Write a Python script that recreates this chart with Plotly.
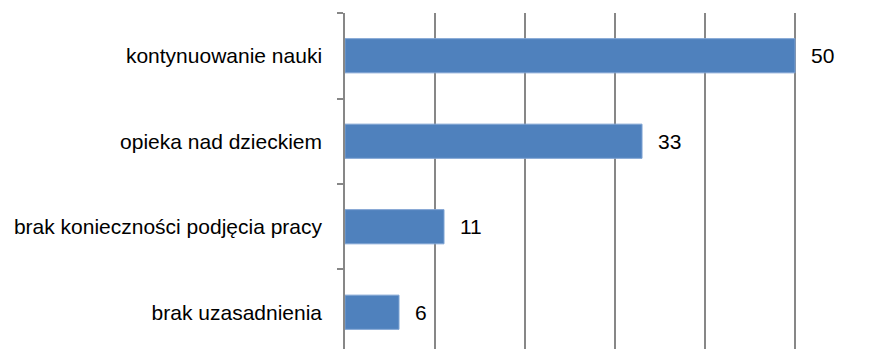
import plotly.graph_objects as go

categories = ["kontynuowanie nauki", "opieka nad dzieckiem",
              "brak konieczności podjęcia pracy", "brak uzasadnienia"]
values = [50, 33, 11, 6]
x_ticks = [0, 10, 20, 30, 40, 50]

FONT = "Liberation Sans, Arial, sans-serif"
GRID = "#878787"

fig = go.Figure()
fig.add_trace(go.Bar(
    y=categories, x=values, orientation="h",
    width=0.4,
    marker=dict(color="#4F81BD", line=dict(color="#7FA3D3", width=1)),
    hoverinfo="skip",
))

for c, v in zip(categories, values):
    fig.add_annotation(x=v, y=c, text=str(v), showarrow=False,
                       xanchor="left", yanchor="middle", xshift=14,
                       font=dict(family=FONT, size=21, color="#000000"))

fig.update_layout(
    width=873, height=349,
    margin=dict(l=345, r=73, t=13, b=0),
    paper_bgcolor="white", plot_bgcolor="white",
    showlegend=False,
    font=dict(family=FONT, size=21, color="#000000"),
    xaxis=dict(range=[0, 50.55], tickvals=x_ticks, showticklabels=False,
               showgrid=True, gridcolor=GRID, gridwidth=1.5,
               zeroline=False, showline=False, ticks=""),
    yaxis=dict(type="category", categoryorder="array", categoryarray=categories,
               range=[3.43, -0.5], showgrid=False, zeroline=False,
               showline=True, linecolor=GRID, linewidth=1.5,
               ticks="outside", tickson="boundaries", ticklen=6,
               tickcolor=GRID, tickwidth=1.5, ticklabelstandoff=17),
)

fig.write_html("out.html")
